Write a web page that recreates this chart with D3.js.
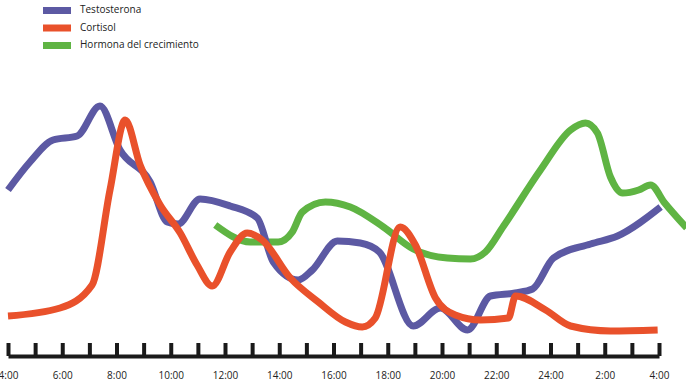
<!DOCTYPE html>
<html>
<head>
<meta charset="utf-8">
<script src="https://cdn.jsdelivr.net/npm/d3@7"></script>
<style>
  body { margin: 0; background: #fff; }
  svg { display: block; font-family: "Open Sans", "Noto Sans", sans-serif; }
</style>
</head>
<body>
<svg width="686" height="384"></svg>
<script>
    // hours after 4:00, relative level (0-100)
    var seriesNames = ["Testosterona", "Cortisol", "Hormona del crecimiento"];
    var seriesColors = ["#5c59a3", "#e9512b", "#5fb443"];

    var testoHours = [0, 0.81, 1.66, 2.55, 3.39, 4.13, 5.24, 5.87, 6.27, 7.08, 8.19, 9.19, 9.78, 10.7, 11.22, 12.14, 12.99, 13.69, 14.94, 15.94, 16.94, 17.79, 18.7, 19.34, 20.11, 21.48, 22.47, 24.06];
    var testoValues = [60, 71.2, 80, 81.6, 93.6, 76, 63.2, 47.2, 46.4, 56.4, 53.6, 48.8, 31.2, 24, 28, 39.6, 38.8, 35.2, 5.6, 12.8, 4, 17.6, 18.8, 20.4, 32.8, 38.4, 41.6, 53.2];

    var cortisolHours = [0, 1.92, 3.1, 3.76, 4.32, 4.87, 5.61, 6.35, 6.97, 7.53, 8.19, 8.82, 9.37, 10.41, 11.44, 12.44, 13.06, 13.54, 14.46, 15.02, 15.76, 16.49, 17.42, 18.45, 18.71, 19.82, 20.74, 22.21, 23.95];
    var cortisolValues = [9.6, 12.8, 22, 60, 88, 70, 54, 42.8, 30, 21.6, 35.2, 42.8, 40, 24.8, 15.2, 7.2, 5.2, 8.8, 45.2, 38, 16.8, 10, 8, 8.8, 17.6, 12, 5.6, 3.6, 4];

    var ghHours = [7.64, 8.93, 9.96, 10.48, 10.85, 11.7, 12.62, 13.84, 14.94, 16.2, 17.05, 17.6, 18.27, 19.63, 20.74, 21.29, 21.73, 22.21, 22.66, 23.25, 23.69, 24.21, 25.02];
    var ghValues = [46, 39.2, 39.2, 43.2, 51.2, 55.2, 53.2, 45.2, 36.4, 32.8, 32.4, 35.2, 45.6, 68, 84, 86.8, 82.8, 65.2, 58.8, 60, 62, 54.8, 44.8];

    var hourLabels = ["4:00", "6:00", "8:00", "10:00", "12:00", "14:00", "16:00", "18:00", "20:00", "22:00", "24:00", "2:00", "4:00"];

    var svg = d3.select("svg");

    var x = d3.scaleLinear().domain([0, 24]).range([8, 659]);
    var y = d3.scaleLinear().domain([0, 100]).range([340, 90]);

    function zip(hs, vs) {
        return hs.map(function(h, i) { return {h: h, v: vs[i]}; });
    }

    var series = [
        {name: seriesNames[2], color: seriesColors[2], data: zip(ghHours, ghValues)},
        {name: seriesNames[0], color: seriesColors[0], data: zip(testoHours, testoValues)},
        {name: seriesNames[1], color: seriesColors[1], data: zip(cortisolHours, cortisolValues)}
    ];

    var line = d3.line()
        .x(function(d) { return x(d.h); })
        .y(function(d) { return y(d.v); })
        .curve(d3.curveMonotoneX);

    svg.selectAll("path.serie")
        .data(series)
        .enter().append("path")
        .attr("class", "serie")
        .attr("fill", "none")
        .attr("stroke", function(d) { return d.color; })
        .attr("stroke-width", 7)
        .attr("d", function(d) { return line(d.data); });

    // axis
    var axis = d3.axisBottom(x)
        .tickValues(d3.range(0, 25))
        .tickSizeInner(-13)
        .tickSizeOuter(0)
        .tickPadding(16)
        .tickFormat(function(d) { return d % 2 ? "" : hourLabels[d / 2]; });

    var gx = svg.append("g")
        .attr("transform", "translate(0,356)")
        .call(axis);

    gx.select(".domain").attr("stroke", "#1a1a1a").attr("stroke-width", 4);
    gx.selectAll(".tick line").attr("stroke", "#1a1a1a").attr("stroke-width", 4);
    gx.selectAll(".tick text")
        .attr("fill", "#222")
        .style("font-size", "10px")
        .style("font-family", "'Open Sans', sans-serif");

    // legend
    var legend = svg.append("g");
    var legendOrder = [0, 1, 2];
    legendOrder.forEach(function(k, i) {
        var row = legend.append("g").attr("transform", "translate(43," + (7 + i * 17.5) + ")");
        row.append("rect")
            .attr("width", 28)
            .attr("height", 7)
            .attr("fill", seriesColors[k]);
        row.append("text")
            .attr("x", 37)
            .attr("y", 3.5)
            .attr("dominant-baseline", "middle")
            .attr("fill", "#222")
            .style("font-size", "10px")
            .text(seriesNames[k]);
    });
</script>
</body>
</html>
